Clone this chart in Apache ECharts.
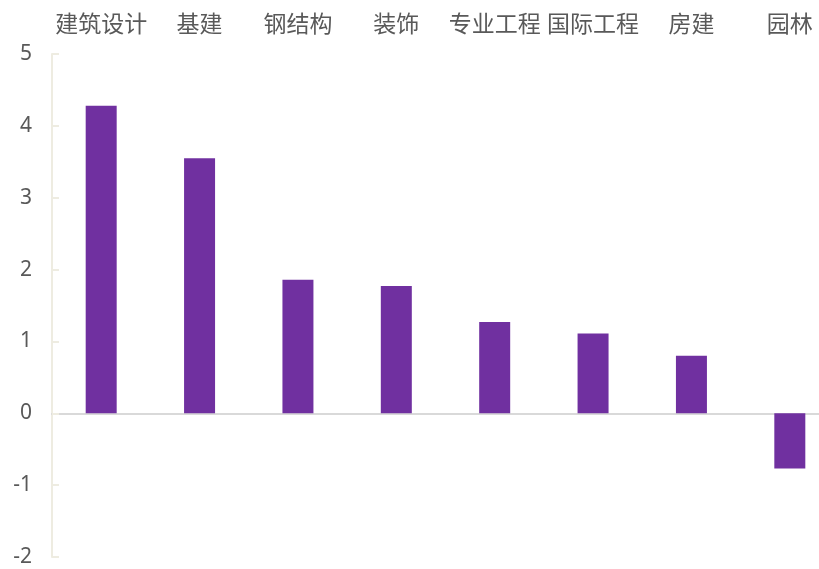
<!DOCTYPE html>
<html><head><meta charset="utf-8">
<script src="https://cdn.jsdelivr.net/npm/echarts@6/dist/echarts.min.js"></script>
<style>html,body{margin:0;padding:0;background:#fff}#c{width:819px;height:569px}</style>
</head><body><div id="c"></div>
<script>
const categories = ['建筑设计','基建','钢结构','装饰','专业工程','国际工程','房建','园林'];
const values = [4.28, 3.55, 1.86, 1.77, 1.27, 1.11, 0.80, -0.77];
const yTicks = [-2, -1, 0, 1, 2, 3, 4, 5];

const chart = echarts.init(document.getElementById('c'));
chart.setOption({
  animation: false,
  grid: { left: 52, top: 54, width: 787, bottom: 12, containLabel: false, outerBoundsMode: 'none' },
  xAxis: [
    { type: 'category', data: categories, position: 'bottom',
      axisLine: { onZero: true, lineStyle: { color: '#D9D9D9', width: 2 } },
      axisTick: { show: false }, axisLabel: { show: false } },
    { type: 'category', data: categories, position: 'top',
      axisLine: { show: false }, axisTick: { show: false },
      axisLabel: { color: '#595959', fontSize: 23, margin: 19,
        fontFamily: '"Noto Sans CJK SC", "Noto Sans", sans-serif', interval: 0 } }
  ],
  yAxis: {
    type: 'value', min: yTicks[0], max: yTicks[yTicks.length-1], interval: 1,
    axisLine: { show: true, lineStyle: { color: '#EEECE1', width: 2 } },
    axisTick: { show: true, inside: true, length: 7, lineStyle: { color: '#EEECE1', width: 2 } },
    splitLine: { show: false },
    axisLabel: { color: '#595959', fontSize: 21, margin: 20,
      fontFamily: '"Noto Sans", "Liberation Sans", sans-serif' }
  },
  series: [{
    type: 'bar', data: values, xAxisIndex: 0, barWidth: 31,
    itemStyle: { color: '#7030A0' }
  }]
});
</script></body></html>
